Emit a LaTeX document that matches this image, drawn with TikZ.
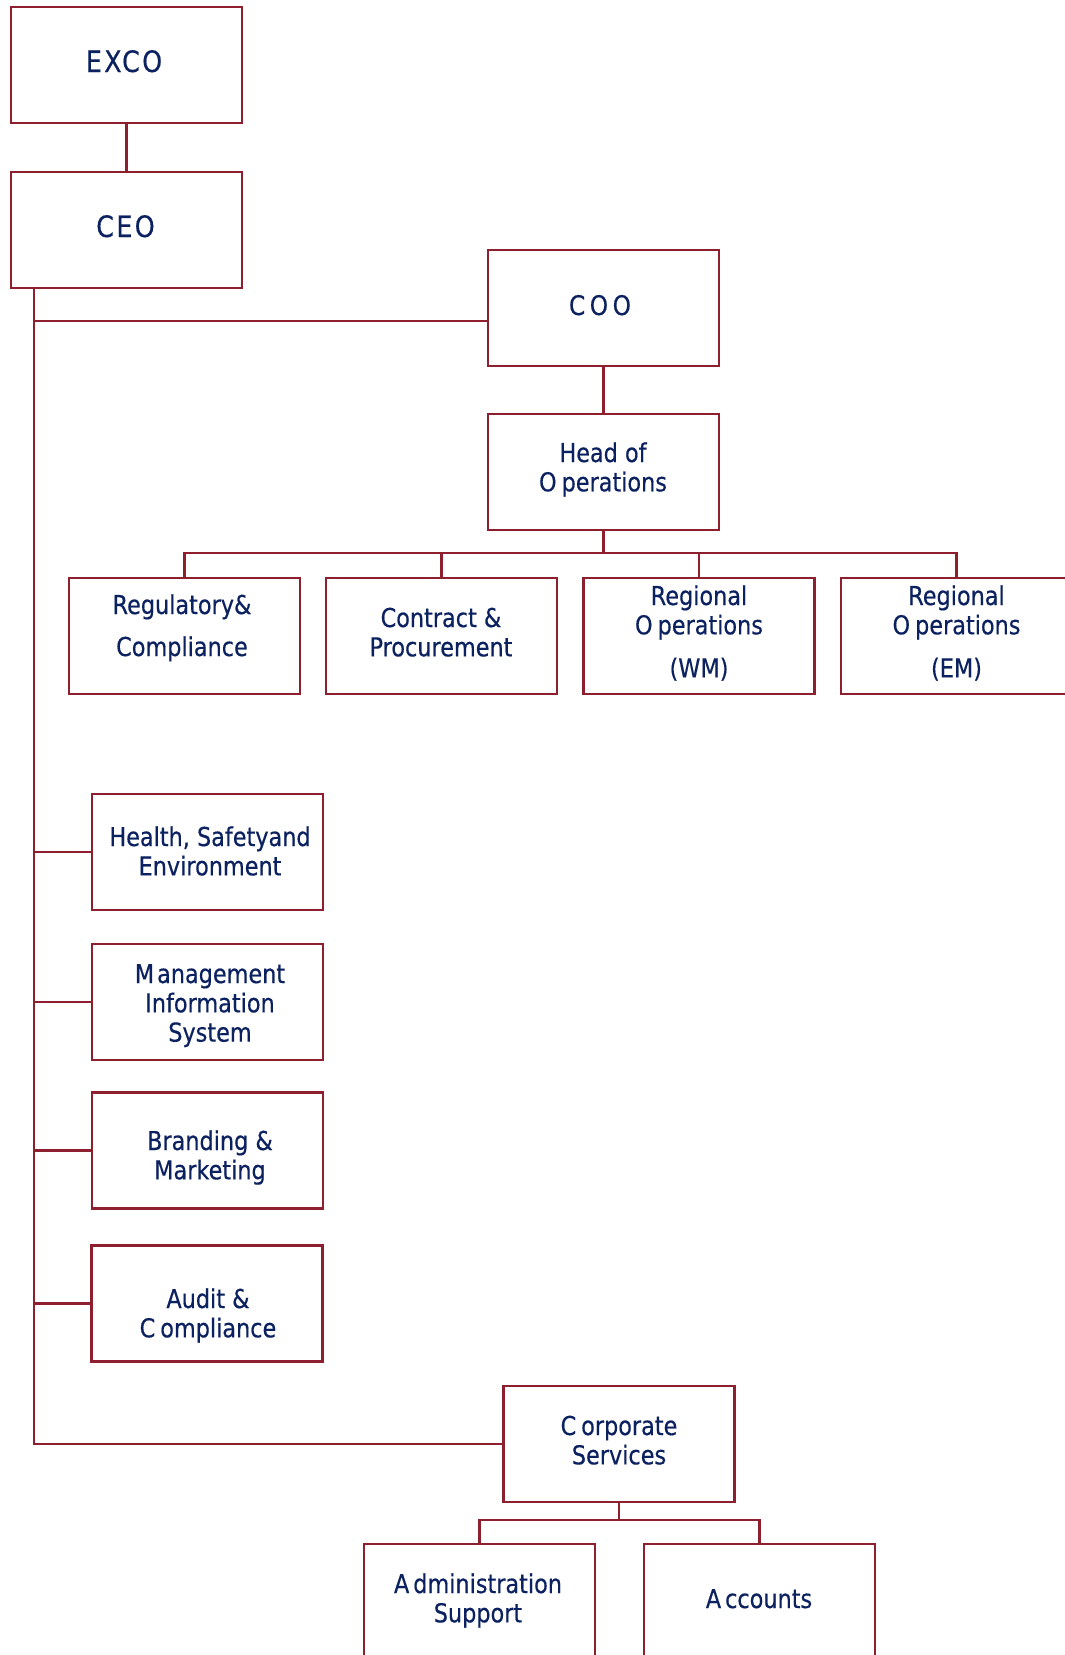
\documentclass[tikz,border=0pt]{standalone}
\usepackage{fontspec}
\setmainfont[FakeStretch=0.86,FakeBold=0.45]{DejaVu Sans}
\definecolor{navy}{HTML}{0B2160}
\definecolor{wine}{HTML}{8E1F2F}
\begin{document}
\begin{tikzpicture}[x=1pt,y=-1pt,
  box/.style={draw=wine, line width=2.8pt, minimum width=231pt, minimum height=116pt, inner sep=0pt, fill=white},
  lbl/.style={text=navy, inner sep=0pt, anchor=base, font=\fontsize{26}{29.3}\selectfont},
  big/.style={lbl, font=\fontsize{29.5}{32}\selectfont\addfontfeature{LetterSpace=8}},
  conn/.style={draw=wine, line width=2.8pt, line join=miter}]
\useasboundingbox (0,0) rectangle (1065,1655);
\clip (0,0) rectangle (1065,1655);

% boxes
\node[box] (exco) at (126.5,65) {};
\node[box] (ceo)  at (126.5,230) {};
\node[box] (coo)  at (603.5,308) {};
\node[box] (hop)  at (603.5,472) {};
\node[box] (reg)  at (184.5,636) {};
\node[box] (con)  at (441.5,636) {};
\node[box] (wm)   at (699,636) {};
\node[box] (em)   at (956.5,636) {};
\node[box] (hse)  at (207.5,852) {};
\node[box] (mis)  at (207.5,1002) {};
\node[box] (brm)  at (207.5,1150.5) {};
\node[box] (aud)  at (207,1303.5) {};
\node[box] (cs)   at (619,1444) {};
\node[box] (adm)  at (479.5,1602) {};
\node[box] (acc)  at (759.5,1602) {};

% connector helpers
\coordinate (sp) at (34,0);
\coordinate (ck) at (0,321);
\coordinate (ob) at (0,553);
\coordinate (cb) at (0,1520);

\draw[conn] (exco.south) -- (ceo.north);
\draw[conn] (ceo.south -| sp) -- (cs.west -| sp) -- (cs.west);
\draw[conn] (ck -| sp) -- (ck -| coo.west);
\draw[conn] (hse.west -| sp) -- (hse.west);
\draw[conn] (mis.west -| sp) -- (mis.west);
\draw[conn] (brm.west -| sp) -- (brm.west);
\draw[conn] (aud.west -| sp) -- (aud.west);
\draw[conn] (coo.south) -- (hop.north);
\draw[conn] (hop.south) -- (hop.south |- ob);
\draw[conn] (reg.north) -- (reg.north |- ob) -- (em.north |- ob) -- (em.north);
\draw[conn] (con.north |- ob) -- (con.north);
\draw[conn] (wm.north |- ob) -- (wm.north);
\draw[conn] (cs.south) -- (cs.south |- cb);
\draw[conn] (adm.north) -- (adm.north |- cb) -- (acc.north |- cb) -- (acc.north);

% labels
\node[big] (excot) at (124,72) {EXCO};
\node[big] (ceot) at (125.5,237) {CEO};
\node[lbl, font=\fontsize{27}{30}\selectfont\addfontfeature{LetterSpace=17}] (coot) at (600,315) {COO};
\node[lbl] (hopt) at (603,462) {\begin{tabular}[t]{@{}c@{}}Head of\\O\kern5pt perations\end{tabular}};
\node[lbl] (regt) at (182,614) {\begin{tabular}[t]{@{}c@{}}Regulatory\&\\[12.7pt]Compliance\end{tabular}};
\node[lbl] (cont) at (441,627) {\begin{tabular}[t]{@{}c@{}}Contract \&\\Procurement\end{tabular}};
\node[lbl] (wmt) at (699,605) {\begin{tabular}[t]{@{}c@{}}Regional\\O\kern5pt perations\\[13.7pt](WM)\end{tabular}};
\node[lbl] (emt) at (956.5,605) {\begin{tabular}[t]{@{}c@{}}Regional\\O\kern5pt perations\\[13.7pt](EM)\end{tabular}};
\node[lbl] (hset) at (210,846) {\begin{tabular}[t]{@{}c@{}}Health, Safetyand\\Environment\end{tabular}};
\node[lbl] (mist) at (210,983) {\begin{tabular}[t]{@{}c@{}}M\kern3pt anagement\\Information\\System\end{tabular}};
\node[lbl] (brmt) at (210,1150) {\begin{tabular}[t]{@{}c@{}}Branding \&\\Marketing\end{tabular}};
\node[lbl] (audt) at (208,1308) {\begin{tabular}[t]{@{}c@{}}Audit \&\\C\kern5pt ompliance\end{tabular}};
\node[lbl] (cst) at (619,1435) {\begin{tabular}[t]{@{}c@{}}C\kern5pt orporate\\Services\end{tabular}};
\node[lbl] (admt) at (478,1593) {\begin{tabular}[t]{@{}c@{}}A\kern4pt dministration\\Support\end{tabular}};
\node[lbl] (acct) at (759,1608) {A\kern4pt ccounts};
\end{tikzpicture}
\end{document}
